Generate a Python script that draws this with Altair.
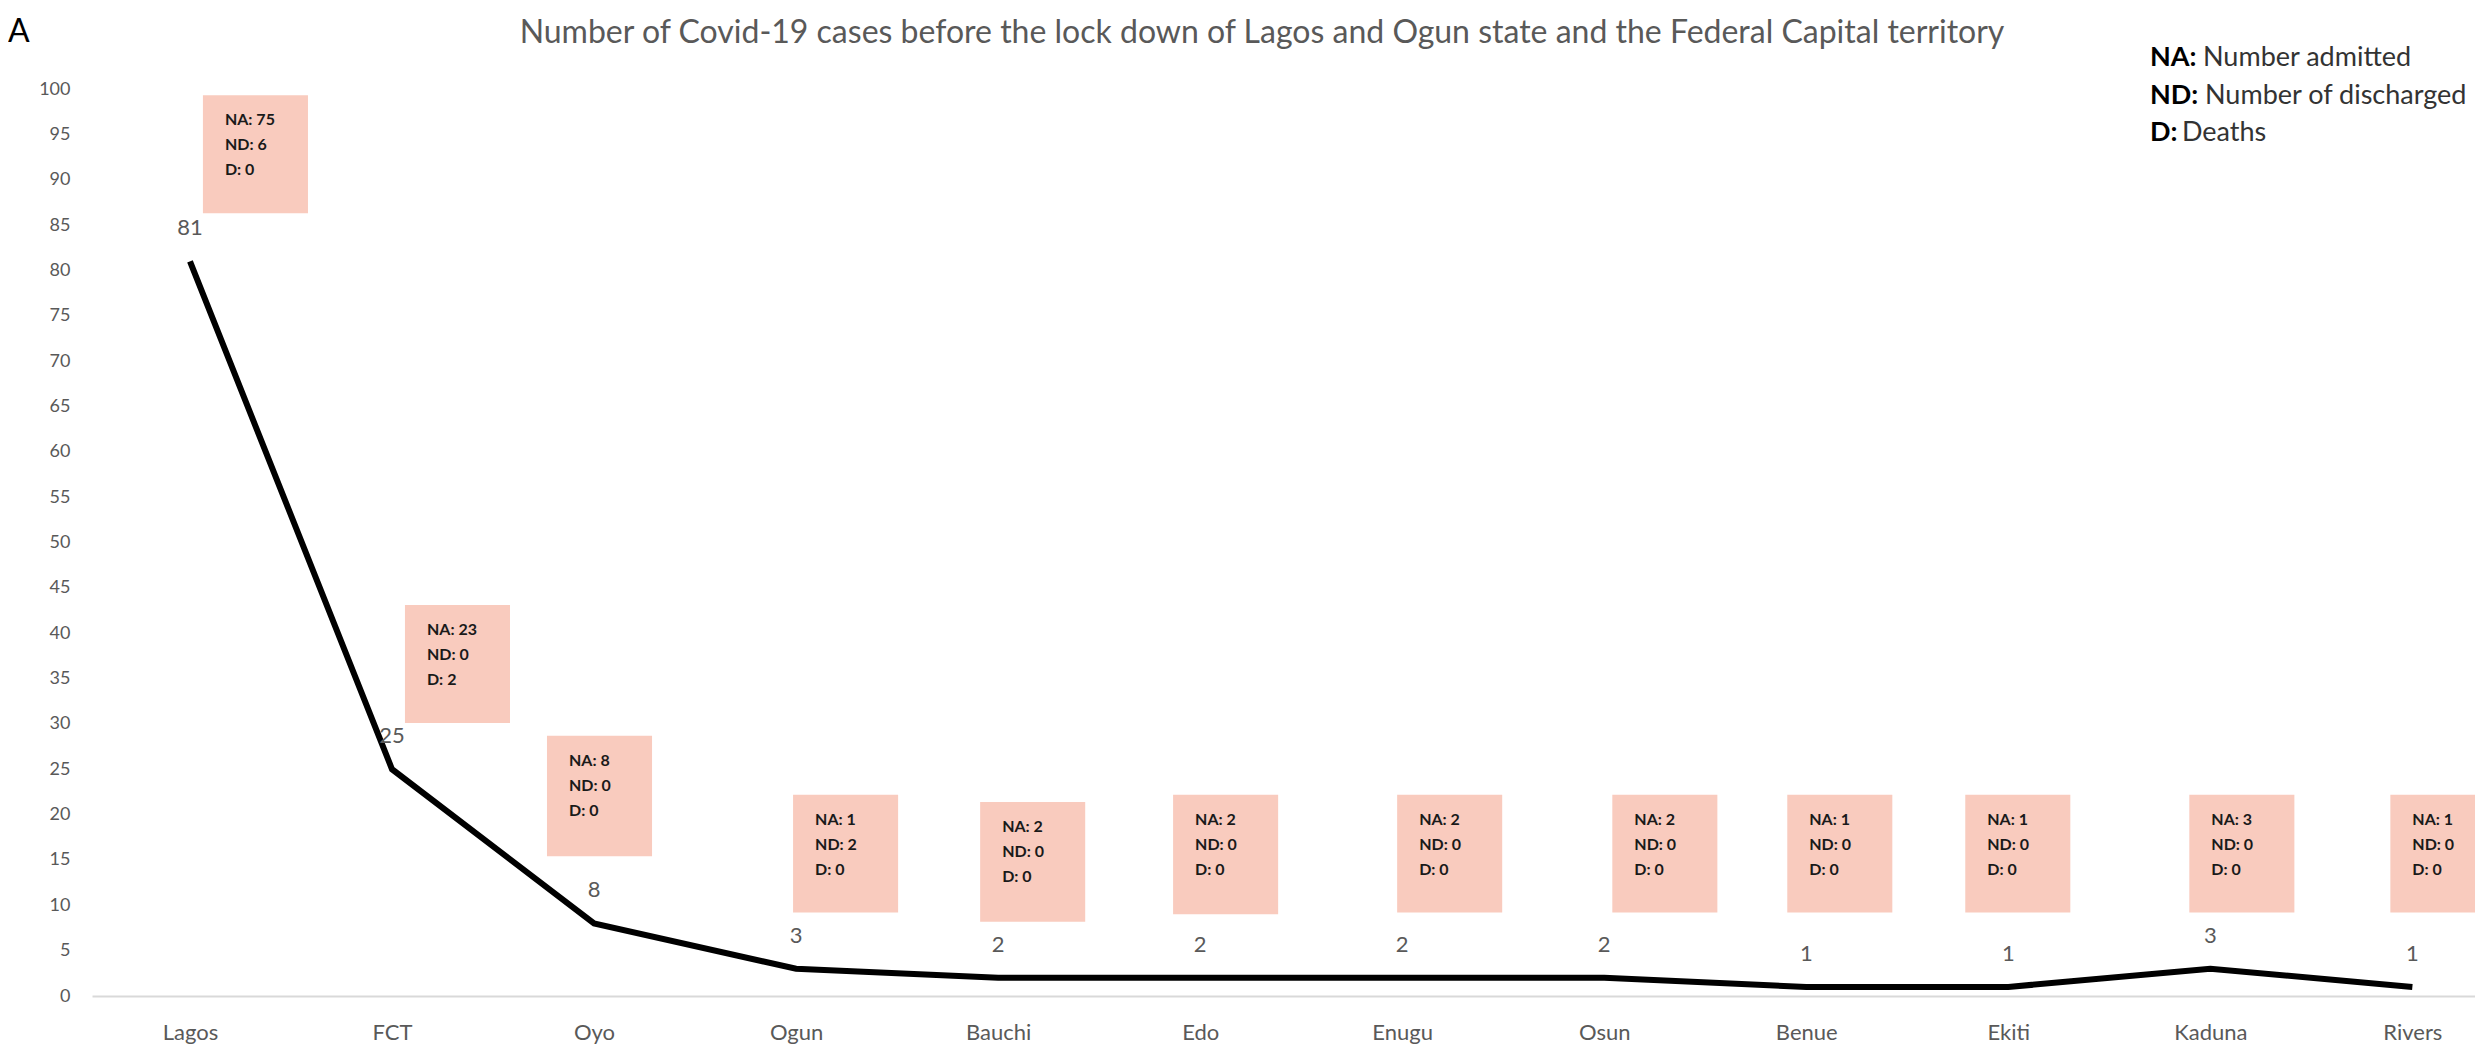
import altair as alt
import pandas as pd

# ---- data ----
categories = ["Lagos", "FCT", "Oyo", "Ogun", "Bauchi", "Edo", "Enugu",
              "Osun", "Benue", "Ekiti", "Kaduna", "Rivers"]
cases = [81, 25, 8, 3, 2, 2, 2, 2, 1, 1, 3, 1]
admitted = [75, 23, 8, 1, 2, 2, 2, 2, 1, 1, 3, 1]
discharged = [6, 0, 0, 2, 0, 0, 0, 0, 0, 0, 0, 0]
deaths = [0, 2, 0, 0, 0, 0, 0, 0, 0, 0, 0, 0]

# annotation box placement (category units / value units)
box_left = [0.064, 1.064, 1.767, 2.985, 3.911, 4.866, 5.975, 7.04, 7.906, 8.787, 9.896, 10.891]
box_top = [99.3, 43.1, 28.7, 22.2, 21.4, 22.2, 22.2, 22.2, 22.2, 22.2, 22.2, 22.2]
box_bottom = [86.3, 30.1, 15.4, 9.2, 8.2, 9.0, 9.2, 9.2, 9.2, 9.2, 9.2, 9.2]
BOX_W = 0.52

legend_keys = ["NA:", "ND:", "D:"]
legend_desc = ["Number admitted", "Number of discharged", "Deaths"]

title_text = ("Number of Covid-19 cases before  the lock down of Lagos and Ogun state "
              "and the Federal Capital territory")

df = pd.DataFrame({
    "state": categories,
    "idx": list(range(len(categories))),
    "cases": cases,
    "box_left": box_left,
    "box_right": [b + BOX_W for b in box_left],
    "box_top": box_top,
    "box_bottom": box_bottom,
    "na": [f"NA: {v}" for v in admitted],
    "nd": [f"ND: {v}" for v in discharged],
    "d": [f"D: {v}" for v in deaths],
})

FONT = "Lato"
GRAY = "#595959"

label_expr = "[" + ",".join(f"'{c}'" for c in categories) + "][datum.value]"

xscale = alt.Scale(domain=[-0.485, 11.31], nice=False, zero=False)
yscale = alt.Scale(domain=[0, 100], nice=False)

xaxis = alt.Axis(values=list(range(len(categories))), labelExpr=label_expr,
                 domain=True, domainColor="#D9D9D9", domainWidth=2,
                 ticks=False, grid=False, labelFont=FONT, labelFontSize=22,
                 labelColor=GRAY, labelPadding=26, labelFlush=False, title=None)
yaxis = alt.Axis(values=list(range(0, 101, 5)), domain=False, ticks=False,
                 grid=False, labelFont=FONT, labelFontSize=18, labelColor=GRAY,
                 labelPadding=22, title=None)

base = alt.Chart(df)

boxes = base.mark_rect(color="#F9CBBE", clip=True).encode(
    x=alt.X("box_left:Q", scale=xscale, axis=xaxis),
    x2="box_right:Q",
    y=alt.Y("box_top:Q", scale=yscale, axis=yaxis),
    y2="box_bottom:Q",
)

box_texts = []
for i, col in enumerate(["na", "nd", "d"]):
    box_texts.append(
        base.mark_text(align="left", baseline="middle", dx=22, dy=25 + 25 * i,
                       font=FONT, fontSize=16, fontWeight="bold",
                       color="#1a1a1a").encode(
            x=alt.X("box_left:Q", scale=xscale),
            y=alt.Y("box_top:Q", scale=yscale),
            text=f"{col}:N",
        )
    )

line = base.mark_line(color="black", strokeWidth=6).encode(
    x=alt.X("idx:Q", scale=xscale),
    y=alt.Y("cases:Q", scale=yscale),
)

labels = base.mark_text(dy=-33, font=FONT, fontSize=22, color=GRAY).encode(
    x=alt.X("idx:Q", scale=xscale),
    y=alt.Y("cases:Q", scale=yscale),
    text="cases:Q",
)

legend_layers = []
key_x = 2058
desc_x = [2111, 2113, 2090]
leg_y = [-31, 7, 44]
for k, dsc, dxp, yy in zip(legend_keys, legend_desc, desc_x, leg_y):
    legend_layers.append(
        alt.Chart(pd.DataFrame({"t": [k]})).mark_text(
            align="left", baseline="middle", font=FONT, fontSize=27,
            fontWeight="bold", color="black").encode(
            x=alt.value(key_x), y=alt.value(yy), text="t:N")
    )
    legend_layers.append(
        alt.Chart(pd.DataFrame({"t": [dsc]})).mark_text(
            align="left", baseline="middle", font=FONT, fontSize=27,
            color="#333333").encode(
            x=alt.value(dxp), y=alt.value(yy), text="t:N")
    )

title_layer = alt.Chart(pd.DataFrame({"t": [title_text]})).mark_text(
    align="center", baseline="middle", font=FONT, fontSize=32, color=GRAY
).encode(x=alt.value(1170), y=alt.value(-56), text="t:N")

panel_letter = alt.Chart(pd.DataFrame({"t": ["A"]})).mark_text(
    align="left", baseline="middle", font=FONT, fontSize=32, color="black"
).encode(x=alt.value(-84), y=alt.value(-57), text="t:N")

chart = alt.layer(boxes, *box_texts, line, labels, *legend_layers,
                  title_layer, panel_letter).properties(
    width=2383,
    height=907,
    autosize=alt.AutoSizeParams(type="none"),
    padding={"left": 84, "top": 81, "right": 0, "bottom": 48},
).configure_view(stroke=None)

chart.save("out.html", embed_options={"renderer": "svg", "actions": False})
